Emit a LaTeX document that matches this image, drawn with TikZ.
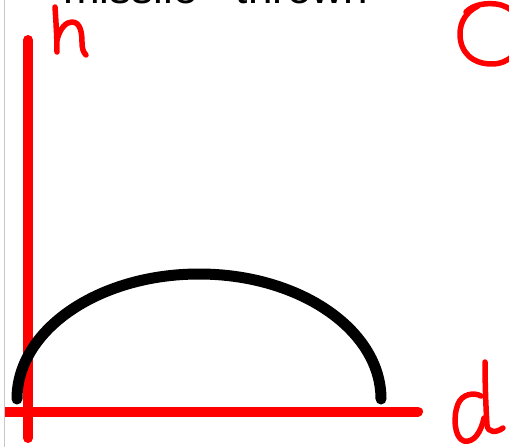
\documentclass[tikz,border=0pt]{standalone}
\usepackage{fontspec}
\setmainfont{Liberation Sans}
\begin{document}
\begin{tikzpicture}[x=1pt,y=-1pt,
  axis/.style={draw=red,line width=10pt,line cap=round},
  pen/.style={draw=red,line width=5.5pt,line cap=round,line join=round},
  traj/.style={draw=black,line width=11pt,line cap=round}]
\useasboundingbox (0,0) rectangle (509,447);
\fill[white] (0,0) rectangle (509,447);
% title, cut off at the top edge
\node[anchor=base west,inner sep=0pt,font=\fontsize{44}{50}\selectfont] (title) at (63,4) {missile\hspace{26pt} thrown};
% axes
\draw[axis] (28,40) -- (28,438);
\draw[axis] (5,411.5) -- (418,411.5);
% trajectory
\draw[traj] (17,399) arc[start angle=180,end angle=360,x radius=182,y radius=125];
% handwritten h
\draw[pen] (55,7) .. controls (56,22) and (57,38) .. (57,52);
\draw[pen] (57,40) .. controls (60,28) and (66,22) .. (72,22) .. controls (80,22) and (82,32) .. (82,42) .. controls (82,48) and (83,52) .. (86,55);
% handwritten O (cut off at right)
\draw[pen] (466,12) .. controls (474,4) and (486,3) .. (496,4) .. controls (512,6) and (522,18) .. (522,34) .. controls (522,52) and (508,64) .. (492,64) .. controls (472,64) and (460,52) .. (460,34) .. controls (460,22) and (466,12) .. (478,6);
% handwritten d
\draw[pen] (481,396) .. controls (474,392) and (462,394) .. (458,404) .. controls (453,416) and (454,438) .. (464,441) .. controls (474,443) and (481,432) .. (484,418);
\draw[pen] (485,362) .. controls (485,385) and (486,410) .. (487,425) .. controls (488,433) and (496,433) .. (503,428);
% left screenshot edge
\fill[white] (0,0) rectangle (4,447);
\draw[draw={rgb,255:red,200;green,200;blue,200},line width=1pt] (4.5,0) -- (4.5,447);
\end{tikzpicture}
\end{document}
